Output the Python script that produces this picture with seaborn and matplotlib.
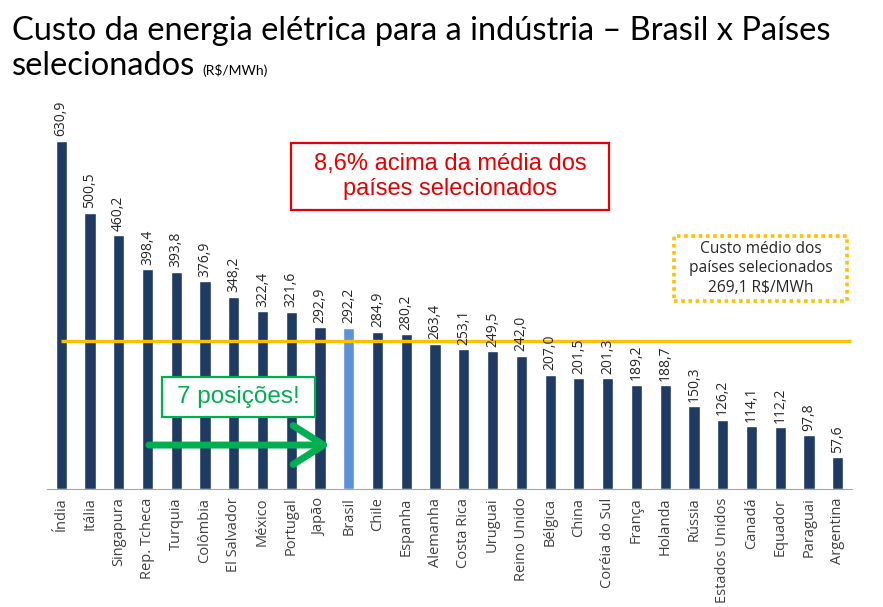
import matplotlib
matplotlib.use("Agg")
import matplotlib.pyplot as plt
from matplotlib.patches import Rectangle
import seaborn as sns
import pandas as pd

# --- Data ---
countries = ["Índia", "Itália", "Singapura", "Rep. Tcheca", "Turquia", "Colômbia",
             "El Salvador", "México", "Portugal", "Japão", "Brasil", "Chile",
             "Espanha", "Alemanha", "Costa Rica", "Uruguai", "Reino Unido", "Bélgica",
             "China", "Coréia do Sul", "França", "Holanda", "Rússia", "Estados Unidos",
             "Canadá", "Equador", "Paraguai", "Argentina"]
costs = [630.9, 500.5, 460.2, 398.4, 393.8, 376.9, 348.2, 322.4, 321.6, 292.9,
         292.2, 284.9, 280.2, 263.4, 253.1, 249.5, 242.0, 207.0, 201.5, 201.3,
         189.2, 188.7, 150.3, 126.2, 114.1, 112.2, 97.8, 57.6]
average = 269.1
highlight = "Brasil"

df = pd.DataFrame({"pais": countries, "custo": costs})

NAVY = "#1F3B64"
LIGHT = "#5B93D8"
GOLD = "#FFC000"
RED = "#E60000"
GREEN = "#00B050"

sns.set_style("white")
plt.rcParams["font.family"] = ["Open Sans", "DejaVu Sans"]

fig = plt.figure(figsize=(8.83, 6.07), dpi=100)
ax = fig.add_axes([0.053, 0.194, 0.912, 0.658])

palette = {c: (LIGHT if c == highlight else NAVY) for c in countries}
sns.barplot(data=df, x="pais", y="custo", hue="pais", palette=palette,
            legend=False, width=0.39, saturation=1, ax=ax)

ax.set_xlim(-0.5, len(countries) - 0.5)
ax.set_ylim(0, 723)

# value labels
for i, v in enumerate(costs):
    ax.text(i, v + 8, f"{v:.1f}".replace(".", ","), rotation=90, ha="center",
            va="bottom", fontsize=10, color="#262626", zorder=4)

# average line (drawn over the bars, from the first bar onward)
ax.hlines(average, 0, len(countries) - 0.55, color=GOLD, lw=2.4, zorder=3)

# axes styling
for s in ["left", "top", "right"]:
    ax.spines[s].set_visible(False)
ax.spines["bottom"].set_color("#A6A6A6")
ax.set_yticks([])
ax.set_xlabel("")
ax.set_ylabel("")
ax.set_xticks(range(len(countries)))
ax.set_xticklabels(countries, rotation=90, fontsize=10.5, color="#404040")
ax.tick_params(axis="x", which="major", length=0, pad=6)
ax.set_xticks([i + 0.5 for i in range(-1, len(countries))], minor=True)
ax.tick_params(axis="x", which="minor", length=5, color="#A6A6A6", direction="out")

# annotation boxes
def box(x0, y0, x1, y1, color, **kw):
    ax.add_patch(Rectangle((x0, y0), x1 - x0, y1 - y0, fc="white", ec=color,
                           zorder=5, clip_on=False, **kw))

box(8.0, 506, 19.05, 627, RED, lw=1.6)
ax.text(13.52, 566, "8,6% acima da média dos\npaíses selecionados", ha="center",
        va="center", fontsize=17, color=RED, family="Liberation Sans",
        linespacing=1.15, zorder=6)

box(21.32, 341, 27.33, 459, GOLD, lw=2.6, ls=(0, (1, 1)))
ax.text(24.32, 400, "Custo médio dos\npaíses selecionados\n269,1 R$/MWh", ha="center",
        va="center", fontsize=11.2, color="#262626", linespacing=1.3, zorder=6)

box(3.51, 130, 8.82, 203, GREEN, lw=1.6)
ax.text(6.16, 167, "7 posições!", ha="center", va="center", fontsize=17.5,
        color=GREEN, family="Liberation Sans", zorder=6)

ax.annotate("", xy=(9.35, 80), xytext=(3.05, 80),
            arrowprops=dict(arrowstyle="->,head_length=0.55,head_width=0.35",
                            mutation_scale=40, color=GREEN, lw=5,
                            capstyle="round", joinstyle="round",
                            shrinkA=0, shrinkB=0))

# title
title_font = ["Lato", "DejaVu Sans"]
fig.text(0.014, 0.934, "Custo da energia elétrica para a indústria – Brasil x Países",
         fontsize=23.5, color="black", family=title_font, va="baseline")
fig.text(0.014, 0.877, "selecionados", fontsize=23.5, color="black",
         family=title_font, va="baseline")
fig.text(0.229, 0.877, "(R$/MWh)", fontsize=10, color="black",
         family=title_font, va="baseline")

fig.savefig("out.png", dpi=100, facecolor="white")
